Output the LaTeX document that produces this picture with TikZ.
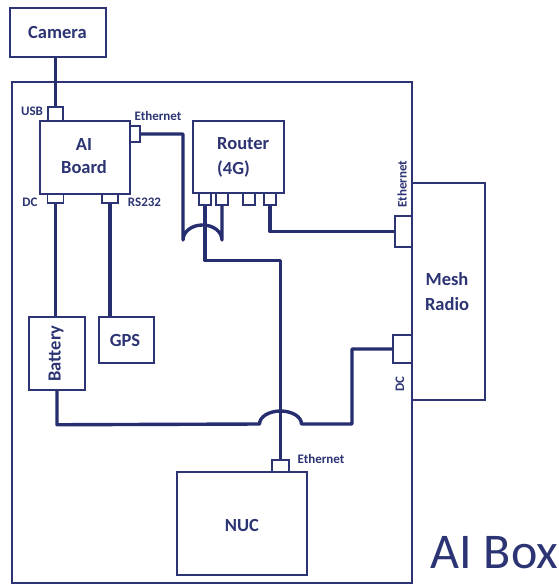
\documentclass[tikz,border=0pt]{standalone}
\usepackage{fontspec}
\setmainfont{Carlito}
\definecolor{ink}{RGB}{44,52,115}
\definecolor{wirec}{RGB}{38,46,112}
\begin{document}
\begin{tikzpicture}[x=1pt,y=-1pt,
  box/.style={draw=ink, line width=1.5pt, inner sep=0pt, fill=white},
  port/.style={draw=ink, line width=1.2pt, inner sep=0pt, fill=white},
  lbl/.style={text=ink, font=\bfseries\fontsize{18.5}{23}\selectfont, align=center, inner sep=0pt},
  small/.style={text=ink, font=\bfseries\fontsize{13}{15}\selectfont, inner sep=0pt},
  wire/.style={draw=wirec, line width=3.4pt, line join=round}]
\useasboundingbox (0,0) rectangle (558,585);
\fill[white] (0,0) rectangle (558,585);

% outer box
\node[box, fill=none, minimum width=400pt, minimum height=501pt] (aibox) at (212,332.5) {};

% boxes
\node[box, minimum width=96pt, minimum height=49pt] (camera) at (58,32.5) {};
\node[box, minimum width=90pt, minimum height=73pt] (aiboard) at (85,157.5) {};
\node[box, minimum width=91pt, minimum height=72pt] (router) at (238.5,157) {};
\node[box, minimum width=73pt, minimum height=217pt] (mesh) at (448.5,291.5) {};
\node[box, minimum width=56pt, minimum height=73pt] (battery) at (57,353.5) {};
\node[box, minimum width=55pt, minimum height=46pt] (gps) at (126.5,340) {};
\node[box, minimum width=130pt, minimum height=103pt] (nuc) at (242,523.5) {};

% ports
\node[port, minimum width=15pt, minimum height=14pt] (usb) at (55.5,114) {};
\node[port, minimum width=10pt, minimum height=16pt] (aieth) at (135,134) {};
\node[port, minimum width=16pt, minimum height=9pt] (dcport) at (55.5,198.5) {};
\node[port, minimum width=16pt, minimum height=9pt] (rsport) at (110,198.5) {};
\node[port, minimum width=12pt, minimum height=12pt] (rp1) at (205,199) {};
\node[port, minimum width=12pt, minimum height=12pt] (rp2) at (222,199) {};
\node[port, minimum width=12pt, minimum height=12pt] (rp3) at (249,199) {};
\node[port, minimum width=12pt, minimum height=12pt] (rp4) at (270,199) {};
\node[port, minimum width=17pt, minimum height=31pt] (mesheth) at (403.5,231.5) {};
\node[port, minimum width=19pt, minimum height=28pt] (meshdc) at (402.5,349) {};
\node[port, minimum width=17pt, minimum height=12pt] (nucport) at (280.5,466) {};

% box texts
\node[lbl] (cameratxt) at (57.5,33) {Camera};
\node[lbl] (aiboardtxt) at (84,156) {AI\\Board};
\node[lbl, font=\bfseries\fontsize{18.5}{25}\selectfont, align=left, anchor=west] (routertxt) at (217,157.5) {Router\\(4G)};
\node[lbl, font=\bfseries\fontsize{18.5}{25}\selectfont] (meshtxt) at (447,292) {Mesh\\Radio};
\node[lbl, rotate=90] (batterytxt) at (56,353.5) {Battery};
\node[lbl] (gpstxt) at (125,340) {GPS};
\node[lbl] (nuctxt) at (242,525) {NUC};
\node[lbl, font=\fontsize{50}{55}\selectfont] (aiboxtxt) at (494.5,552.5) {AI Box};

% small labels
\node[small] (usbtxt) at (32,111) {USB};
\node[small] (aiethtxt) at (158,116) {Ethernet};
\node[small] (dctxt) at (30,202) {DC};
\node[small] (rstxt) at (144.5,202) {RS232};
\node[small, rotate=90] (meshethtxt) at (402,184) {Ethernet};
\node[small, rotate=90] (meshdctxt) at (400,384) {DC};
\node[small] (nucethtxt) at (321,459) {Ethernet};

% wires
\draw[wire] (usb.north |- camera.south) -- (usb.north);
\draw[wire] (aieth.east) -| (183,240) arc[start angle=180, end angle=360, x radius=19.5, y radius=15] -- (rp2.south);
\draw[wire] (rp1.south) -- ++(0,55) -| (nucport.north);
\draw[wire] (rp4.south) |- (mesheth.west);
\draw[wire] (dcport.south) -- (dcport.south |- battery.north);
\draw[wire] (rsport.south) -- (rsport.south |- gps.north);
\draw[wire] (battery.south) -- ++(0,34) -- (259.5,424) arc[start angle=180, end angle=360, x radius=21, y radius=13] -- (352,424) |- (meshdc.west);
\end{tikzpicture}
\end{document}
